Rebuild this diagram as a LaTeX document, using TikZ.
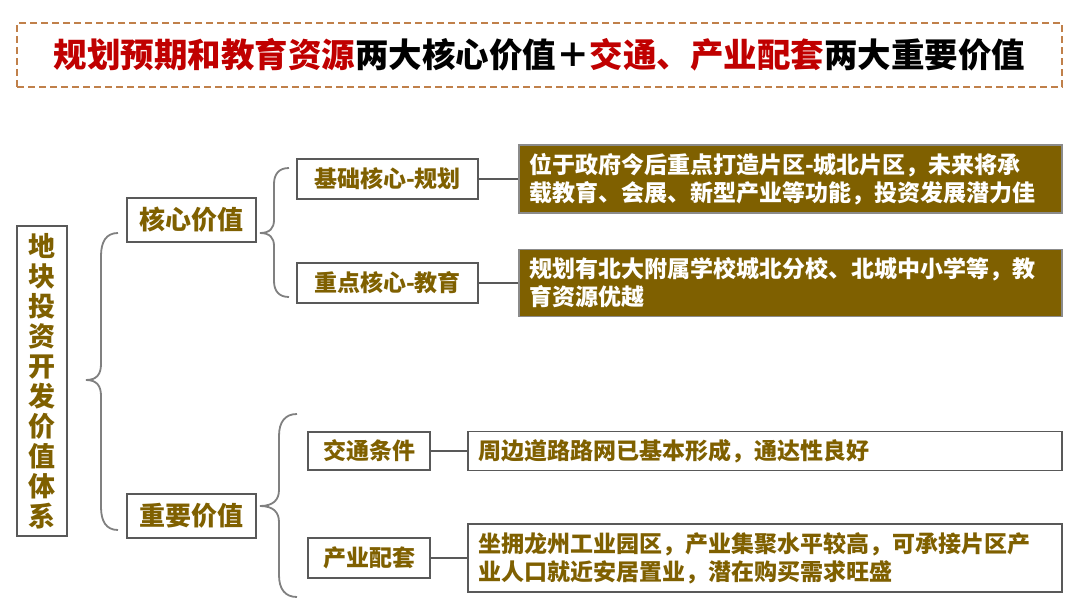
\documentclass[tikz,border=0pt]{standalone}
\usepackage{fontspec}
\setmainfont{Noto Sans CJK SC}
\definecolor{brn}{HTML}{7F6000}
\definecolor{ttlred}{HTML}{C00000}
\definecolor{dashc}{HTML}{C0804A}
\definecolor{bord}{HTML}{595959}
\definecolor{bracec}{HTML}{808080}
\begin{document}
\begin{tikzpicture}[x=1pt,y=-1pt,
  titlebox/.style={draw=dashc, line width=1.3pt, dash pattern=on 7pt off 4pt, inner sep=0pt,
    font=\bfseries\fontsize{33.5}{38}\selectfont},
  lbl/.style={draw=bord, line width=1.5pt, text=brn, inner sep=0pt, fill=white,
    font=\bfseries\fontsize{23}{28}\selectfont},
  big/.style={lbl, font=\bfseries\fontsize{26}{30}\selectfont},
  vert/.style={lbl, font=\bfseries\fontsize{27}{30}\selectfont, align=center},
  fbox/.style={draw=bord!70, line width=1.2pt, fill=brn, text=white, inner xsep=10pt, inner ysep=0pt,
    align=left, font=\bfseries\fontsize{23}{28}\selectfont},
  wbox/.style={draw=bord, line width=1.5pt, fill=white, text=brn, inner xsep=10pt, inner ysep=0pt,
    align=left, font=\bfseries\fontsize{23}{28}\selectfont},
  brc/.style={draw=bracec, line width=1.8pt},
  conn/.style={draw=bord, line width=1.5pt}]
\useasboundingbox (0,0) rectangle (1080,613);
\fill[white] (0,0) rectangle (1080,613);

\node[titlebox, minimum width=1045pt, minimum height=64pt] (title) at (539.5,55)
  {{\color{ttlred}规划预期和教育资源}两大核心价值＋{\color{ttlred}交通、产业配套}两大重要价值};

\node[vert, minimum width=50pt, minimum height=310pt] (root) at (42,381)
  {地\\块\\投\\资\\开\\发\\价\\值\\体\\系};

\node[big, minimum width=129pt, minimum height=44pt] (kv) at (191.5,220) {核心价值};
\node[big, minimum width=129pt, minimum height=44pt] (zv) at (191.5,516) {重要价值};

\node[lbl, minimum width=181pt, minimum height=40pt] (b1) at (387.5,179) {基础核心-规划};
\node[lbl, minimum width=181pt, minimum height=40pt] (b2) at (387.5,283) {重点核心-教育};
\node[lbl, minimum width=122pt, minimum height=38pt] (b3) at (369,451) {交通条件};
\node[lbl, minimum width=122pt, minimum height=40pt] (b4) at (369,558) {产业配套};

\node[fbox, text width=523pt, minimum height=68pt] (r1) at (790.5,179)
  {位于政府今后重点打造片区-城北片区，未来将承\\载教育、会展、新型产业等功能，投资发展潜力佳};
\node[fbox, text width=523pt, minimum height=67pt] (r2) at (790.5,283)
  {规划有北大附属学校城北分校、北城中小学等，教\\育资源优越};
\node[wbox, text width=574pt, minimum height=39pt] (r3) at (765,451)
  {周边道路路网已基本形成，通达性良好};
\node[wbox, text width=574pt, minimum height=68pt] (r4) at (765,558)
  {坐拥龙州工业园区，产业集聚水平较高，可承接片区产\\业人口就近安居置业，潜在购买需求旺盛};

\draw[conn] (b1.east) -- (r1.west);
\draw[conn] (b2.east) -- (r2.west);
\draw[conn] (b3.east) -- (r3.west);
\draw[conn] (b4.east) -- (r4.west);

% braces
\draw[brc] (118,233) .. controls (106,233) and (101,242) .. (101,256) -- (101,364)
  .. controls (101,374) and (97,380) .. (86,380) .. controls (97,380) and (101,386) .. (101,396)
  -- (101,507) .. controls (101,521) and (106,530) .. (118,530);
\draw[brc] (289,168) .. controls (279,168) and (274,174) .. (274,184) -- (274,220)
  .. controls (274,228) and (270,233) .. (260,233) .. controls (270,233) and (274,238) .. (274,246)
  -- (274,281) .. controls (274,291) and (279,297) .. (289,297);
\draw[brc] (297,414) .. controls (285,414) and (279,422) .. (279,436) -- (279,490)
  .. controls (279,500) and (273,506) .. (260,506) .. controls (273,506) and (279,512) .. (279,522)
  -- (279,575) .. controls (279,589) and (285,597) .. (297,597);
\end{tikzpicture}
\end{document}
